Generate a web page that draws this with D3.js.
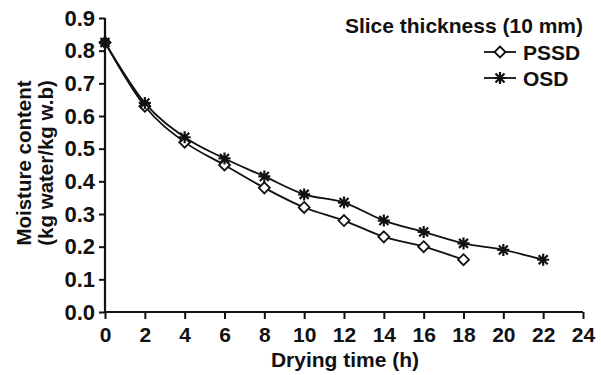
<!DOCTYPE html>
<html>
<head>
<meta charset="utf-8">
<script src="https://cdn.jsdelivr.net/npm/d3@7"></script>
<style>
  body { margin: 0; background: #fff; }
  text { font-family: "Liberation Sans", Arial, sans-serif; font-weight: bold; fill: #111; }
</style>
</head>
<body>
<script>
var hoursPSSD = [0, 2, 4, 6, 8, 10, 12, 14, 16, 18];
var moisturePSSD = [0.825, 0.63, 0.52, 0.45, 0.38, 0.32, 0.28, 0.23, 0.20, 0.16];
var hoursOSD = [0, 2, 4, 6, 8, 10, 12, 14, 16, 18, 20, 22];
var moistureOSD = [0.825, 0.64, 0.535, 0.47, 0.415, 0.36, 0.335, 0.28, 0.245, 0.21, 0.19, 0.16];
var xTicks = [0, 2, 4, 6, 8, 10, 12, 14, 16, 18, 20, 22, 24];
var yTicks = [0, 0.1, 0.2, 0.3, 0.4, 0.5, 0.6, 0.7, 0.8, 0.9];

var width = 601, height = 375;
var margin = {top: 18, right: 18, bottom: 63, left: 105};

var svg = d3.select("body").append("svg")
    .attr("width", width)
    .attr("height", height);

var x = d3.scaleLinear().domain([0, 24]).range([margin.left, 583]);
var y = d3.scaleLinear().domain([0, 0.9]).range([312, margin.top]);

// axes
var xAxis = svg.append("g")
    .attr("transform", "translate(0," + y(0) + ")")
    .call(d3.axisBottom(x).tickValues(xTicks).tickSize(7).tickPadding(8).tickFormat(d3.format("d")));
var yAxis = svg.append("g")
    .attr("transform", "translate(" + x(0) + ",0)")
    .call(d3.axisLeft(y).tickValues(yTicks).tickSize(6).tickPadding(4).tickFormat(d3.format(".1f")));

[xAxis, yAxis].forEach(function(a) {
  a.select(".domain").attr("stroke", "#111").attr("stroke-width", 2.2);
  a.selectAll(".tick line").attr("stroke", "#111").attr("stroke-width", 2);
  a.selectAll(".tick text").style("font-family", "Liberation Sans, Arial, sans-serif").style("font-weight", "bold").attr("fill", "#111");
});
xAxis.selectAll(".tick text").style("font-size", "21px");
yAxis.selectAll(".tick text").style("font-size", "22px");
xAxis.select(".domain").attr("d", "M" + x(0) + ",0H" + x(24));
yAxis.select(".domain").attr("d", "M0," + y(0) + "V" + y(0.9));

// titles
svg.append("text")
    .attr("x", 345)
    .attr("y", 367)
    .attr("text-anchor", "middle")
    .style("font-size", "21px")
    .text("Drying time (h)");

var yt = svg.append("text")
    .attr("transform", "translate(31,163) rotate(-90)")
    .attr("text-anchor", "middle")
    .style("font-size", "20.5px");
yt.append("tspan").attr("x", 0).attr("dy", 0).text("Moisture content");
yt.append("tspan").attr("x", 0).attr("dy", 22).text("(kg water/kg w.b)");

// series
var line = d3.line()
    .x(function(d) { return x(d[0]); })
    .y(function(d) { return y(d[1]); })
    .curve(d3.curveMonotoneX);

var pssd = d3.zip(hoursPSSD, moisturePSSD);
var osd = d3.zip(hoursOSD, moistureOSD);

svg.append("path").datum(osd)
    .attr("d", line).attr("fill", "none").attr("stroke", "#111").attr("stroke-width", 1.8);
svg.append("path").datum(pssd)
    .attr("d", line).attr("fill", "none").attr("stroke", "#111").attr("stroke-width", 1.8);

function diamond(g, cx, cy) {
  var s = 5.5;
  g.append("path")
    .attr("d", "M" + cx + "," + (cy - s) + "L" + (cx + s) + "," + cy + "L" + cx + "," + (cy + s) + "L" + (cx - s) + "," + cy + "Z")
    .attr("fill", "#fff").attr("stroke", "#111").attr("stroke-width", 1.8);
}
function asterisk(g, cx, cy) {
  var s = 6, d = 4.5;
  g.append("path")
    .attr("d", "M" + (cx - s) + "," + cy + "H" + (cx + s) +
               "M" + cx + "," + (cy - s) + "V" + (cy + s) +
               "M" + (cx - d) + "," + (cy - d) + "L" + (cx + d) + "," + (cy + d) +
               "M" + (cx - d) + "," + (cy + d) + "L" + (cx + d) + "," + (cy - d))
    .attr("stroke", "#111").attr("stroke-width", 2.2);
}

var marks = svg.append("g");
pssd.forEach(function(d) { diamond(marks, x(d[0]), y(d[1])); });
osd.forEach(function(d) { asterisk(marks, x(d[0]), y(d[1])); });

// legend
var lg = svg.append("g");
lg.append("text").attr("x", 583).attr("y", 33).attr("text-anchor", "end")
    .style("font-size", "21px").text("Slice thickness (10 mm)");
var entries = [["PSSD", diamond, 52], ["OSD", asterisk, 78]];
entries.forEach(function(e) {
  lg.append("line").attr("x1", 484).attr("x2", 516).attr("y1", e[2]).attr("y2", e[2])
    .attr("stroke", "#111").attr("stroke-width", 1.8);
  e[1](lg, 500, e[2]);
  lg.append("text").attr("x", 523).attr("y", e[2] + 7.5).style("font-size", "21px").text(e[0]);
});
</script>
</body>
</html>
